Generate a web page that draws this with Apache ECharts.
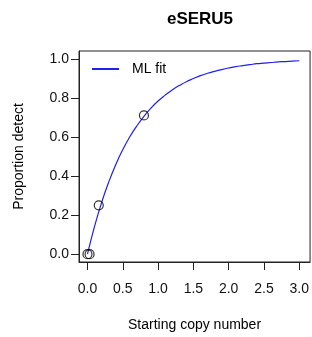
<!DOCTYPE html>
<html>
<head>
<meta charset="utf-8">
<script src="https://cdn.jsdelivr.net/npm/echarts@6/dist/echarts.min.js"></script>
<style>
  html, body { margin: 0; padding: 0; background: #fff; }
  #main { width: 312px; height: 337px; }
</style>
</head>
<body>
<div id="main"></div>
<script>
var chart = echarts.init(document.getElementById('main'));

// observed points
var obsX = [0, 0.03, 0.16, 0.8];
var obsY = [0, 0, 0.25, 0.71];

// ML fit curve
var fitX = [0, 0.1, 0.2, 0.3, 0.4, 0.5, 0.6, 0.7, 0.8, 0.9, 1.0, 1.1, 1.2, 1.3, 1.4, 1.5, 1.6, 1.7, 1.8, 1.9, 2.0,
            2.1, 2.2, 2.3, 2.4, 2.5, 2.6, 2.7, 2.8, 2.9, 3.0];
var fitY = [0, 0.142, 0.264, 0.368, 0.458, 0.535, 0.601, 0.657, 0.706, 0.748, 0.784, 0.814, 0.841, 0.863, 0.883, 0.899,
            0.914, 0.926, 0.936, 0.945, 0.953, 0.960, 0.965, 0.970, 0.975, 0.978, 0.981, 0.984, 0.986, 0.988, 0.990];

var xTicks = [0, 0.5, 1, 1.5, 2, 2.5, 3];
var yTicks = [0, 0.2, 0.4, 0.6, 0.8, 1];

var fitData = [];
for (var i = 0; i < fitX.length; i++) {
  fitData.push([fitX[i], fitY[i]]);
}
var obsData = [];
for (var j = 0; j < obsX.length; j++) {
  obsData.push([obsX[j], obsY[j]]);
}

var font = 'Liberation Sans, Arial, sans-serif';

var option = {
  animation: false,
  title: {
    text: 'eSERU5',
    left: 195,
    textAlign: 'center',
    top: 6,
    textStyle: { fontFamily: font, fontSize: 17, fontWeight: 'bold', color: '#000' }
  },
  legend: {
    data: ['ML fit'],
    left: 87,
    top: 57,
    itemWidth: 27,
    itemHeight: 2,
    icon: 'rect',
    textStyle: { fontFamily: font, fontSize: 14, color: '#000', padding: [0, 0, 0, 8] }
  },
  grid: {
    left: 79,
    top: 51,
    right: -1,
    bottom: 75,
    show: true,
    borderColor: '#222',
    borderWidth: 1
  },
  xAxis: {
    type: 'value',
    min: -0.12,
    max: 3.153,
    name: 'Starting copy number',
    nameLocation: 'middle',
    nameGap: 56,
    nameTextStyle: { fontFamily: font, fontSize: 14, color: '#000' },
    axisLine: { show: true, onZero: false, lineStyle: { color: '#222' } },
    axisTick: { show: true, length: 8, customValues: xTicks, lineStyle: { color: '#222' } },
    axisLabel: {
      customValues: xTicks,
      margin: 20,
      fontFamily: font, fontSize: 14, color: '#111',
      formatter: function (v) { return v.toFixed(1); }
    },
    splitLine: { show: false }
  },
  yAxis: {
    type: 'value',
    min: -0.04,
    max: 1.04,
    name: 'Proportion detect',
    nameLocation: 'middle',
    nameGap: 53,
    nameTextStyle: { fontFamily: font, fontSize: 14, color: '#000' },
    axisLine: { show: true, onZero: false, lineStyle: { color: '#222' } },
    axisTick: { show: true, length: 8, customValues: yTicks, lineStyle: { color: '#222' } },
    axisLabel: {
      customValues: yTicks,
      margin: 10,
      fontFamily: font, fontSize: 14, color: '#111',
      formatter: function (v) { return v.toFixed(1); }
    },
    splitLine: { show: false }
  },
  series: [
    {
      name: 'ML fit',
      type: 'line',
      data: fitData,
      smooth: true,
      symbol: 'none',
      color: '#1f1ff0',
      lineStyle: { color: '#1f1ff0', width: 1.2 },
      z: 2
    },
    {
      name: 'obs',
      type: 'scatter',
      data: obsData,
      symbol: 'circle',
      symbolSize: 9,
      itemStyle: { color: 'transparent', borderColor: '#000', borderWidth: 1.2 },
      z: 3
    }
  ]
};

chart.setOption(option);
</script>
</body>
</html>
